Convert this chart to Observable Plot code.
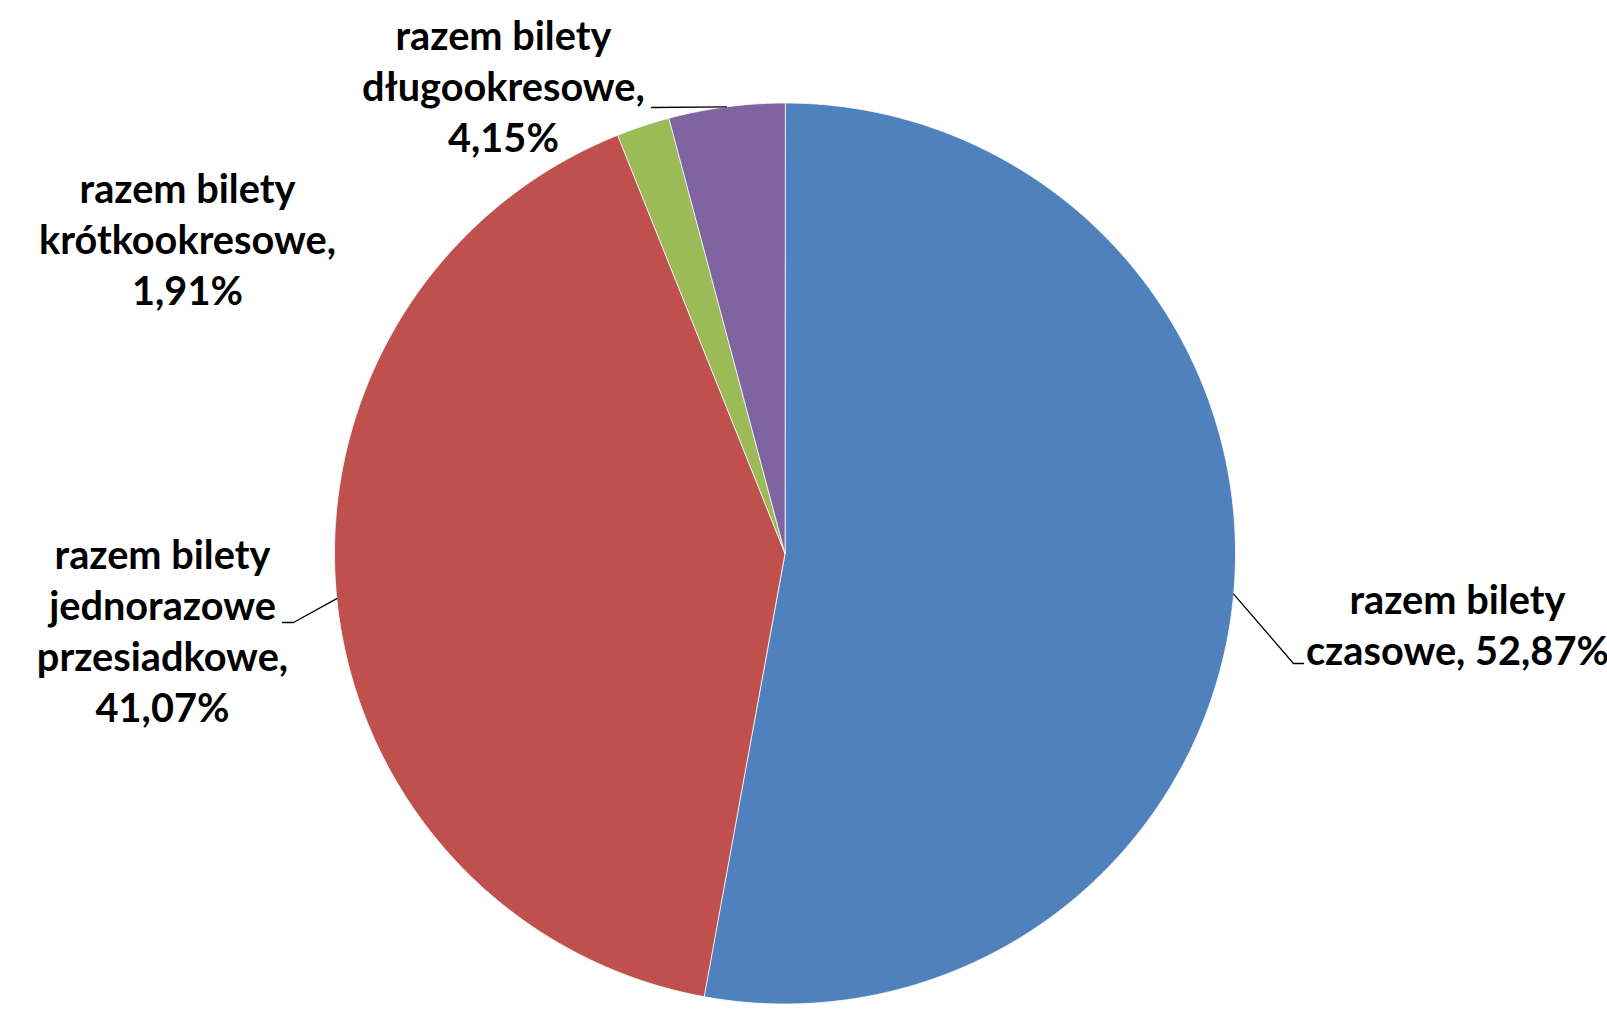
<!DOCTYPE html>
<html>
<head>
<meta charset="utf-8">
<script src="https://cdn.jsdelivr.net/npm/d3@7"></script>
<script src="https://cdn.jsdelivr.net/npm/@observablehq/plot@0.6"></script>
<style>
  html, body { margin: 0; padding: 0; background: #ffffff; }
  #chart svg { display: block; overflow: visible; }
</style>
</head>
<body>
<div id="chart"></div>
<script>
// ---- data ----
const categories = [
  "razem bilety\nczasowe",
  "razem bilety\njednorazowe\nprzesiadkowe",
  "razem bilety\nkrótkookresowe",
  "razem bilety\ndługookresowe"
];
const values = [52.87, 41.07, 1.91, 4.15];
const labelSeparators = [", ", ",\n", ",\n", ",\n"];
const colors = ["#4F81BD", "#C0504D", "#9BBB59", "#8064A2"];

// ---- layout (in units of the pie radius, centre = 0,0) ----
const labelPos = [[1.4927, -0.1687], [-1.3818, -0.1820], [-1.3263, 0.6881], [-0.6249, 1.0277]];
const leaderPath = [
  [[1.1287, -0.2442], [1.1509, -0.2442]],
  [[-1.0910, -0.1532], [-1.1154, -0.1532]],
  null,
  [[-0.2963, 0.9900]]
];

const W = 1607, H = 1009;
const cx = 784.5, cy = 553, R = 450.5;

// font size chosen so the widest word fits its measured width
const fontFamily = "Lato, 'Open Sans', sans-serif";
const ctx = document.createElement("canvas").getContext("2d");
ctx.font = `bold 100px ${fontFamily}`;
const fontSize = 100 * 297 / ctx.measureText("krótkookresowe,").width;

// ---- pie geometry from the values ----
const pie = d3.pie().sort(null).value(d => d)(values);
const slicePts = [];
pie.forEach((p, i) => {
  slicePts.push({cat: categories[i], x: 0, y: 0});
  const n = Math.max(2, Math.ceil((p.endAngle - p.startAngle) / 0.005));
  for (let k = 0; k <= n; k++) {
    const a = p.startAngle + (p.endAngle - p.startAngle) * k / n;
    slicePts.push({cat: categories[i], x: Math.sin(a), y: Math.cos(a)});
  }
});

const fmt = v => v.toFixed(2).replace(".", ",") + "%";
const labels = categories.map((c, i) => ({
  text: c + labelSeparators[i] + fmt(values[i]),
  x: labelPos[i][0], y: labelPos[i][1]
}));

const leaderPts = [];
pie.forEach((p, i) => {
  if (!leaderPath[i]) return;
  const a = (p.startAngle + p.endAngle) / 2;
  leaderPts.push({k: i, x: Math.sin(a), y: Math.cos(a)});
  leaderPath[i].forEach(([x, y]) => leaderPts.push({k: i, x, y}));
});

const chart = Plot.plot({
  width: W, height: H,
  margin: 0,
  x: {domain: [-1, 1], range: [cx - R, cx + R], axis: null},
  y: {domain: [-1, 1], range: [cy + R, cy - R], axis: null},
  color: {domain: categories, range: colors},
  style: {background: "#ffffff", overflow: "visible"},
  marks: [
    Plot.line(slicePts, {x: "x", y: "y", z: "cat", fill: "cat", stroke: "#ffffff", strokeWidth: 0.8, curve: "linear-closed"}),
    Plot.line(leaderPts, {x: "x", y: "y", z: "k", stroke: "#000000", strokeWidth: 1.3}),
    Plot.text(labels, {x: "x", y: "y", text: "text", fontSize, fontWeight: "bold", fontFamily, lineHeight: 51 / fontSize, textAnchor: "middle", dy: -6, fill: "#000000"})
  ]
});
document.getElementById("chart").appendChild(chart);
</script>
</body>
</html>
